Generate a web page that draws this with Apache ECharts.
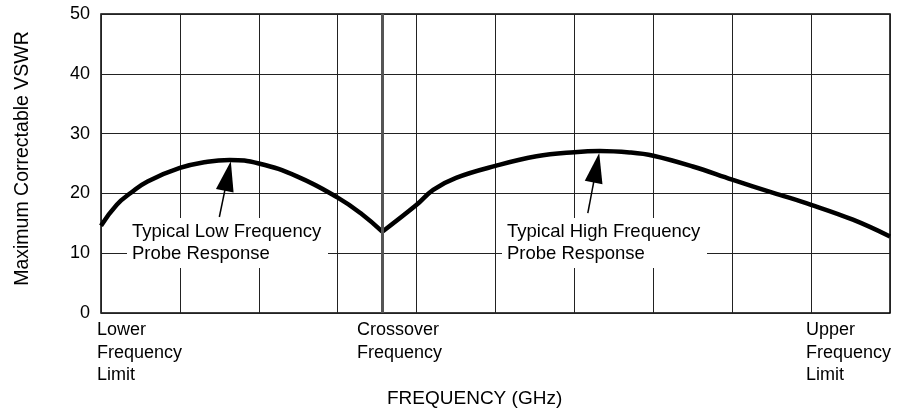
<!DOCTYPE html>
<html lang="en" style="height: 100%">
<head>
  <meta charset="utf-8">
  <title>Maximum Correctable VSWR</title>
</head>
<body style="height: 100%; margin: 0; background: #fff">
  <div id="container" style="width: 898px; height: 412px"></div>
  <script type="text/javascript" src="https://fastly.jsdelivr.net/npm/echarts@6.0.0/dist/echarts.min.js"></script>
  <script type="text/javascript">
    // curve, x in grid divisions (0 = lower limit, 10 = upper limit)
    const lowProbe = [
      [0, 14.6], [0.2, 18.1], [0.38, 20.1], [0.59, 22.0], [1.0, 24.25], [1.35, 25.3],
      [1.63, 25.6], [2.0, 25.0], [2.49, 22.8], [3.0, 19.3], [3.3, 16.6], [3.565, 13.6]
    ];
    const highProbe = [
      [3.565, 13.6], [4.0, 18.1], [4.21, 20.6], [4.5, 22.6], [5.0, 24.6],
      [5.52, 26.2], [6.0, 26.9], [6.32, 27.1], [6.7, 26.85], [7.0, 26.3],
      [7.5, 24.5], [8.0, 22.3], [8.52, 20.1], [9.0, 18.1], [9.53, 15.6], [10.0, 12.8]
    ];
    const crossover = 3.565;
    // arrows: tail point, centre of the arrow head
    const arrowLow = [[1.5, 16.05], [1.607, 22.9]];
    const arrowHigh = [[6.17, 16.7], [6.279, 24.28]];

    const yTicks = [0, 10, 20, 30, 40, 50];
    const noteLow = 'Typical Low Frequency\nProbe Response';
    const noteHigh = 'Typical High Frequency\nProbe Response';
    const freqLabels = ['Lower\nFrequency\nLimit', 'Crossover\nFrequency', 'Upper\nFrequency\nLimit'];

    const font = '"Liberation Sans", Arial, Helvetica, sans-serif';

    var dom = document.getElementById('container');
    var myChart = echarts.init(dom, null, { renderer: 'canvas' });

    function arrowLine(a) {
      return [
        { coord: a[0], symbol: 'none' },
        { coord: a[1], symbol: 'triangle', symbolSize: [18, 30] }
      ];
    }

    function note(text, x, y, w) {
      return [
        {
          type: 'rect',
          z: 10,
          shape: { x: x - 5, y: y - 3, width: w, height: 50 },
          style: { fill: '#fff', stroke: null }
        },
        {
          type: 'text',
          z: 11,
          x: x,
          y: y,
          style: {
            text: text,
            font: '18.5px ' + font,
            lineHeight: 22,
            fill: '#000',
            align: 'left',
            verticalAlign: 'top'
          }
        }
      ];
    }

    function bottomText(text, x) {
      return {
        type: 'text',
        x: x,
        y: 319,
        style: {
          text: text,
          font: '18px ' + font,
          lineHeight: 22.5,
          fill: '#000',
          align: 'left',
          verticalAlign: 'top'
        }
      };
    }

    var option = {
      animation: false,
      backgroundColor: '#fff',
      grid: {
        left: 101,
        right: 8,
        top: 14,
        bottom: 99,
        show: true,
        borderColor: '#000',
        borderWidth: 1.5,
        backgroundColor: 'transparent'
      },
      xAxis: {
        type: 'value',
        min: 0,
        max: 10,
        interval: 1,
        axisLine: { show: false },
        axisTick: { show: false },
        axisLabel: { show: false },
        splitLine: { show: true, lineStyle: { color: '#222', width: 1 } }
      },
      yAxis: {
        type: 'value',
        min: yTicks[0],
        max: yTicks[yTicks.length - 1],
        interval: 10,
        name: 'Maximum Correctable VSWR',
        nameLocation: 'middle',
        nameGap: 68,
        nameTextStyle: { fontFamily: font, fontSize: 19.5, color: '#000', padding: [0, 0, 0, 10] },
        axisLine: { show: false },
        axisTick: { show: false },
        axisLabel: { fontFamily: font, fontSize: 18, color: '#000', margin: 11 },
        splitLine: { show: true, lineStyle: { color: '#222', width: 1 } }
      },
      series: [
        {
          type: 'line',
          data: lowProbe,
          smooth: 0.45,
          showSymbol: false,
          lineStyle: { color: '#000', width: 4.5 },
          z: 3
        },
        {
          type: 'line',
          data: highProbe,
          smooth: 0.4,
          showSymbol: false,
          lineStyle: { color: '#000', width: 4.5 },
          z: 3
        },
        {
          type: 'line',
          data: [],
          z: 2,
          markLine: {
            silent: true,
            symbol: 'none',
            label: { show: false },
            lineStyle: { color: '#555', width: 3, type: 'solid' },
            data: [{ xAxis: crossover }]
          }
        },
        {
          type: 'line',
          data: [],
          z: 6,
          markLine: {
            silent: true,
            symbol: ['none', 'triangle'],
            label: { show: false },
            lineStyle: { color: '#000', width: 1.5, type: 'solid' },
            itemStyle: { color: '#000' },
            data: [arrowLine(arrowLow), arrowLine(arrowHigh)]
          }
        }
      ],
      graphic: [
        ...note(noteLow, 132, 221, 201),
        ...note(noteHigh, 507, 221, 205),
        bottomText(freqLabels[0], 97),
        bottomText(freqLabels[1], 357),
        bottomText(freqLabels[2], 806),
        {
          type: 'text',
          x: 387,
          y: 389,
          style: {
            text: 'FREQUENCY (GHz)',
            font: '19px ' + font,
            fill: '#000',
            align: 'left',
            verticalAlign: 'top'
          }
        }
      ]
    };

    myChart.setOption(option);
    window.addEventListener('resize', myChart.resize);
  </script>
</body>
</html>
